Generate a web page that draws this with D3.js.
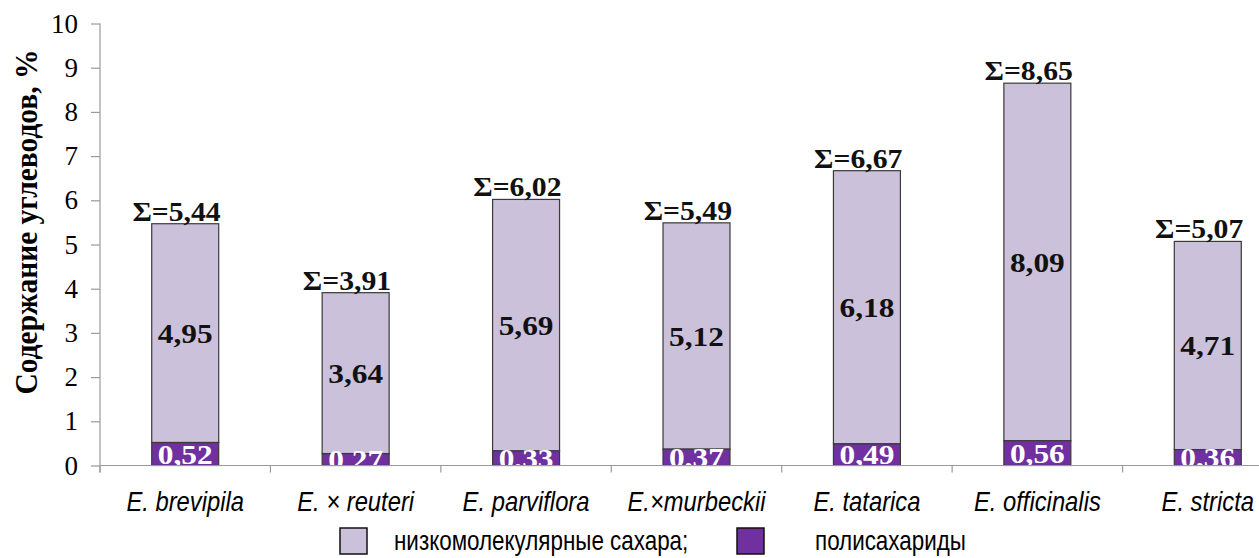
<!DOCTYPE html>
<html>
<head>
<meta charset="utf-8">
<script src="https://cdn.jsdelivr.net/npm/d3@7"></script>
<style>
  html, body { margin: 0; padding: 0; background: #fff; }
  svg { display: block; }
</style>
</head>
<body>
<svg id="chart" width="1259" height="558"></svg>
<script>
// Species and carbohydrate content, % (stacked: polysaccharides at the bottom)
const species = ["E. brevipila", "E. × reuteri", "E. parviflora", "E.×murbeckii", "E. tatarica", "E. officinalis", "E. stricta"];
const lowMolSugars = [4.95, 3.64, 5.69, 5.12, 6.18, 8.09, 4.71];
const polysaccharides = [0.52, 0.27, 0.33, 0.37, 0.49, 0.56, 0.36];
const totals = [5.44, 3.91, 6.02, 5.49, 6.67, 8.65, 5.07];
const yTicks = [0, 1, 2, 3, 4, 5, 6, 7, 8, 9, 10];
const seriesNames = ["низкомолекулярные сахара;", "полисахариды"];
const seriesColors = ["#CCC1DA", "#7030A0"];
const yTitle = "Содержание углеводов, %";

const fmt = v => v.toFixed(2).replace(".", ",");

const svg = d3.select("#chart");
const plotLeft = 100, plotRight = 1293, plotTop = 23.5, plotBottom = 465.5;

const x = d3.scaleBand().domain(species).range([plotLeft, plotRight])
  .paddingInner(0.607).paddingOuter(0.3035);
const y = d3.scaleLinear().domain([0, 10]).range([plotBottom, plotTop]);

const rows = species.map((s, i) => ({
  s, low: lowMolSugars[i], poly: polysaccharides[i], total: totals[i]
}));

const serif = "'Liberation Serif', 'Times New Roman', serif";
const sans = "'Liberation Sans', Arial, sans-serif";

// clip region for the plot area (labels in thin segments are cut at the axis)
svg.append("defs").append("clipPath").attr("id", "plotClip")
  .append("rect").attr("x", plotLeft).attr("y", 0)
  .attr("width", plotRight - plotLeft).attr("height", plotBottom - 0.5);

// y axis
const yAxis = svg.append("g").attr("transform", `translate(${plotLeft},0)`)
  .call(d3.axisLeft(y).tickValues(yTicks).tickSize(9).tickPadding(13).tickFormat(d3.format("d")));
yAxis.select(".domain").attr("stroke", "#9a9a9a").attr("stroke-width", 1.2)
  .attr("d", `M0,${plotTop}V${plotBottom + 7}`);
yAxis.selectAll(".tick line").attr("stroke", "#9a9a9a").attr("stroke-width", 1.2);
yAxis.selectAll(".tick text")
  .attr("font-family", serif).attr("font-size", 27).attr("fill", "#000");

// y title
svg.append("text")
  .attr("transform", `translate(37,222) rotate(-90)`)
  .attr("text-anchor", "middle")
  .attr("font-family", serif).attr("font-weight", "bold").attr("font-size", 31)
  .attr("textLength", 345).attr("lengthAdjust", "spacingAndGlyphs")
  .text(yTitle);

// stacked bars
const g = svg.append("g").selectAll("g").data(rows).join("g");
g.append("rect")
  .attr("x", d => x(d.s)).attr("width", x.bandwidth())
  .attr("y", d => y(d.poly + d.low)).attr("height", d => y(d.poly) - y(d.poly + d.low))
  .attr("fill", seriesColors[0]).attr("stroke", "#3a3a3a").attr("stroke-width", 1.2);
g.append("rect")
  .attr("x", d => x(d.s)).attr("width", x.bandwidth())
  .attr("y", d => y(d.poly)).attr("height", d => y(0) - y(d.poly))
  .attr("fill", seriesColors[1]).attr("stroke", "#3a3a3a").attr("stroke-width", 1.2);

// value labels inside the low-molecular segment
g.append("text")
  .attr("transform", d => `translate(${x(d.s) + x.bandwidth() / 2},${y(d.poly + d.low / 2)}) scale(1.12,1)`)
  .attr("text-anchor", "middle").attr("dy", "0.35em")
  .attr("font-family", serif).attr("font-weight", "bold").attr("font-size", 28)
  .attr("fill", "#111")
  .text(d => fmt(d.low));

// polysaccharide labels (white, clipped by the axis)
svg.append("g").attr("clip-path", "url(#plotClip)")
  .selectAll("text").data(rows).join("text")
  .attr("transform", d => `translate(${x(d.s) + x.bandwidth() / 2},${y(d.poly / 2)}) scale(1.12,1)`)
  .attr("text-anchor", "middle").attr("dy", "0.35em")
  .attr("font-family", serif).attr("font-weight", "bold").attr("font-size", 28)
  .attr("fill", "#fff")
  .text(d => fmt(d.poly));

// totals above each bar
g.append("text")
  .attr("transform", d => `translate(${x(d.s) + x.bandwidth() + 2},${y(d.poly + d.low) - 3}) scale(1.1,1)`)
  .attr("text-anchor", "end")
  .attr("font-family", serif).attr("font-weight", "bold").attr("font-size", 27)
  .attr("fill", "#111")
  .text(d => "Σ=" + fmt(d.total));

// x axis: baseline, boundary ticks, and category labels
const xAxis = svg.append("g").attr("transform", `translate(0,${plotBottom})`)
  .call(d3.axisBottom(x).tickSize(0).tickPadding(26));
xAxis.select(".domain").attr("stroke", "#9a9a9a").attr("stroke-width", 1.2)
  .attr("d", `M${plotLeft},0H${plotRight}`);
xAxis.selectAll(".tick text")
  .attr("font-family", sans).attr("font-style", "italic")
  .attr("font-size", 28).attr("fill", "#000")
  .attr("transform", "scale(0.85,1)");
const gap = (x.step() - x.bandwidth()) / 2;
const bounds = species.map(s => x(s) - gap)
  .concat([x(species[species.length - 1]) + x.bandwidth() + gap]);
xAxis.selectAll("line.bound").data(bounds).join("line").attr("class", "bound")
  .attr("x1", d => d).attr("x2", d => d).attr("y1", 0).attr("y2", 7)
  .attr("stroke", "#9a9a9a").attr("stroke-width", 1.2);

// legend
const legend = svg.append("g");
const legendItems = [
  { name: seriesNames[0], color: seriesColors[0], bx: 340, tx: 394 },
  { name: seriesNames[1], color: seriesColors[1], bx: 737, tx: 815 }
];
legendItems.forEach(it => {
  legend.append("rect").attr("x", it.bx).attr("y", 528).attr("width", 27).attr("height", 26)
    .attr("fill", it.color).attr("stroke", "#111").attr("stroke-width", 1.5);
  legend.append("text")
    .attr("transform", `translate(${it.tx},550) scale(0.83,1)`)
    .attr("font-family", sans).attr("font-size", 27).attr("fill", "#000")
    .text(it.name);
});
</script>
</body>
</html>
